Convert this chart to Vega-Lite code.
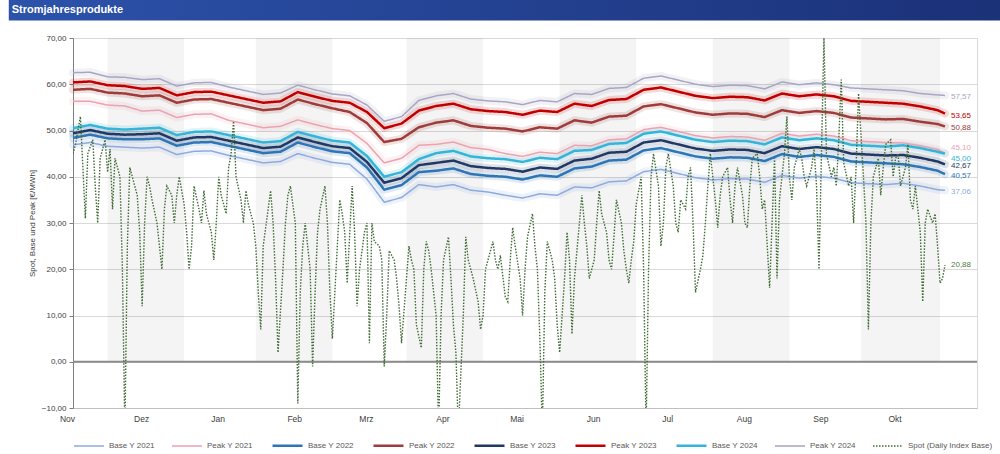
{
"$schema": "https://vega.github.io/schema/vega-lite/v6.json",
"autosize": {"type": "none"},
"padding": {"left": 73, "top": 38, "right": 23, "bottom": 46},
"width": 904,
"height": 370,
"config": {
 "font": "Liberation Sans",
 "view": {"stroke": "#d9d9d9"},
 "locale": {
  "number": {"decimal": ",", "thousands": ".", "grouping": [3], "currency": ["", " €"]},
  "time": {"dateTime": "%A, %e. %B %Y, %X", "date": "%d.%m.%Y", "time": "%H:%M:%S", "periods": ["AM", "PM"],
   "days": ["Sonntag", "Montag", "Dienstag", "Mittwoch", "Donnerstag", "Freitag", "Samstag"],
   "shortDays": ["So", "Mo", "Di", "Mi", "Do", "Fr", "Sa"],
   "months": ["Januar", "Februar", "März", "April", "Mai", "Juni", "Juli", "August", "September", "Oktober", "November", "Dezember"],
   "shortMonths": ["Jan", "Feb", "Mrz", "Apr", "Mai", "Jun", "Jul", "Aug", "Sep", "Okt", "Nov", "Dez"]}
 }
},
"datasets": {
 "shade": [
  {"start": "2019-11-15", "end": "2019-12-16"},
  {"start": "2020-01-14", "end": "2020-02-14"},
  {"start": "2020-03-15", "end": "2020-04-15"},
  {"start": "2020-05-16", "end": "2020-06-16"},
  {"start": "2020-07-17", "end": "2020-08-17"},
  {"start": "2020-09-15", "end": "2020-10-17"}
 ],
 "header": [{"title": "Stromjahresprodukte"}],
 "fwd": [
  {"date": "2019-11-01", "B21": 46.9, "P21": 56.3, "B22": 48.4, "P22": 58.8, "B23": 49.4, "P23": 60.4, "B24": 50.5, "P24": 62.5},
  {"date": "2019-11-08", "B21": 47.4, "P21": 56.3, "B22": 49.1, "P22": 59.0, "B23": 50.1, "P23": 60.6, "B24": 51.2, "P24": 62.6},
  {"date": "2019-11-15", "B21": 46.6, "P21": 55.5, "B22": 48.3, "P22": 58.2, "B23": 49.3, "P23": 59.8, "B24": 50.4, "P24": 61.6},
  {"date": "2019-11-22", "B21": 46.4, "P21": 55.3, "B22": 48.1, "P22": 58.0, "B23": 49.1, "P23": 59.6, "B24": 50.2, "P24": 61.5},
  {"date": "2019-11-29", "B21": 46.2, "P21": 54.2, "B22": 48.1, "P22": 57.4, "B23": 49.2, "P23": 59.0, "B24": 50.4, "P24": 61.0},
  {"date": "2019-12-06", "B21": 46.4, "P21": 54.4, "B22": 48.3, "P22": 57.6, "B23": 49.4, "P23": 59.2, "B24": 50.6, "P24": 61.2},
  {"date": "2019-12-13", "B21": 44.8, "P21": 52.8, "B22": 46.7, "P22": 56.0, "B23": 47.8, "P23": 57.6, "B24": 49.0, "P24": 59.6},
  {"date": "2019-12-20", "B21": 45.5, "P21": 53.5, "B22": 47.4, "P22": 56.7, "B23": 48.5, "P23": 58.3, "B24": 49.7, "P24": 60.3},
  {"date": "2019-12-27", "B21": 45.6, "P21": 53.6, "B22": 47.5, "P22": 56.8, "B23": 48.6, "P23": 58.4, "B24": 49.8, "P24": 60.4},
  {"date": "2020-01-03", "B21": 44.6, "P21": 52.2, "B22": 46.7, "P22": 56.0, "B23": 47.8, "P23": 57.6, "B24": 49.0, "P24": 59.4},
  {"date": "2020-01-10", "B21": 43.8, "P21": 51.4, "B22": 45.9, "P22": 55.2, "B23": 47.0, "P23": 56.8, "B24": 48.2, "P24": 58.6},
  {"date": "2020-01-17", "B21": 43.0, "P21": 50.6, "B22": 45.1, "P22": 54.4, "B23": 46.2, "P23": 56.0, "B24": 47.4, "P24": 57.8},
  {"date": "2020-01-24", "B21": 43.3, "P21": 50.9, "B22": 45.4, "P22": 54.7, "B23": 46.5, "P23": 56.3, "B24": 47.7, "P24": 58.1},
  {"date": "2020-01-31", "B21": 45.0, "P21": 52.3, "B22": 47.4, "P22": 56.7, "B23": 48.5, "P23": 58.3, "B24": 49.7, "P24": 59.8},
  {"date": "2020-02-07", "B21": 44.0, "P21": 51.3, "B22": 46.4, "P22": 55.7, "B23": 47.5, "P23": 57.3, "B24": 48.7, "P24": 58.8},
  {"date": "2020-02-14", "B21": 43.1, "P21": 50.4, "B22": 45.5, "P22": 54.8, "B23": 46.6, "P23": 56.4, "B24": 47.8, "P24": 57.9},
  {"date": "2020-02-21", "B21": 42.7, "P21": 50.0, "B22": 45.1, "P22": 54.0, "B23": 46.2, "P23": 56.0, "B24": 47.4, "P24": 57.5},
  {"date": "2020-02-28", "B21": 39.5, "P21": 47.2, "B22": 42.0, "P22": 51.6, "B23": 43.2, "P23": 54.0, "B24": 44.5, "P24": 55.5},
  {"date": "2020-03-06", "B21": 34.5, "P21": 43.0, "B22": 37.2, "P22": 47.5, "B23": 38.7, "P23": 50.5, "B24": 40.0, "P24": 52.0},
  {"date": "2020-03-13", "B21": 35.5, "P21": 44.0, "B22": 38.2, "P22": 48.2, "B23": 39.7, "P23": 51.5, "B24": 41.0, "P24": 53.0},
  {"date": "2020-03-20", "B21": 38.3, "P21": 46.8, "B22": 41.0, "P22": 50.7, "B23": 42.5, "P23": 54.3, "B24": 43.8, "P24": 56.5},
  {"date": "2020-03-27", "B21": 37.8, "P21": 47.0, "B22": 41.3, "P22": 51.7, "B23": 43.0, "P23": 55.3, "B24": 45.1, "P24": 57.5},
  {"date": "2020-04-03", "B21": 38.3, "P21": 47.5, "B22": 41.8, "P22": 52.2, "B23": 43.5, "P23": 55.8, "B24": 45.6, "P24": 58.0},
  {"date": "2020-04-10", "B21": 37.1, "P21": 46.3, "B22": 40.6, "P22": 51.0, "B23": 42.3, "P23": 54.6, "B24": 44.4, "P24": 56.8},
  {"date": "2020-04-17", "B21": 36.7, "P21": 45.9, "B22": 40.2, "P22": 50.6, "B23": 41.9, "P23": 54.2, "B24": 44.0, "P24": 56.4},
  {"date": "2020-04-24", "B21": 36.0, "P21": 45.0, "B22": 40.0, "P22": 50.4, "B23": 41.7, "P23": 54.0, "B24": 43.8, "P24": 56.2},
  {"date": "2020-05-01", "B21": 35.4, "P21": 44.4, "B22": 39.4, "P22": 49.8, "B23": 41.1, "P23": 53.4, "B24": 43.2, "P24": 55.6},
  {"date": "2020-05-08", "B21": 36.3, "P21": 45.3, "B22": 40.3, "P22": 50.7, "B23": 42.0, "P23": 54.3, "B24": 44.1, "P24": 56.5},
  {"date": "2020-05-15", "B21": 36.0, "P21": 45.0, "B22": 40.0, "P22": 50.4, "B23": 41.7, "P23": 54.0, "B24": 43.8, "P24": 56.2},
  {"date": "2020-05-22", "B21": 37.8, "P21": 46.8, "B22": 41.8, "P22": 52.2, "B23": 43.5, "P23": 55.8, "B24": 45.6, "P24": 58.0},
  {"date": "2020-05-29", "B21": 37.6, "P21": 46.7, "B22": 42.2, "P22": 51.7, "B23": 43.9, "P23": 55.3, "B24": 45.8, "P24": 57.8},
  {"date": "2020-06-05", "B21": 38.9, "P21": 48.0, "B22": 43.5, "P22": 53.0, "B23": 45.2, "P23": 56.6, "B24": 47.1, "P24": 59.1},
  {"date": "2020-06-12", "B21": 39.1, "P21": 48.2, "B22": 43.7, "P22": 53.2, "B23": 45.4, "P23": 56.8, "B24": 47.3, "P24": 59.3},
  {"date": "2020-06-19", "B21": 41.1, "P21": 50.2, "B22": 45.7, "P22": 55.2, "B23": 47.4, "P23": 58.8, "B24": 49.3, "P24": 61.3},
  {"date": "2020-06-26", "B21": 41.6, "P21": 50.7, "B22": 46.2, "P22": 55.7, "B23": 47.9, "P23": 59.3, "B24": 49.8, "P24": 61.8},
  {"date": "2020-07-03", "B21": 40.7, "P21": 49.8, "B22": 45.3, "P22": 54.8, "B23": 47.0, "P23": 58.4, "B24": 48.9, "P24": 60.9},
  {"date": "2020-07-10", "B21": 39.8, "P21": 48.9, "B22": 44.4, "P22": 53.9, "B23": 46.1, "P23": 57.5, "B24": 48.0, "P24": 60.0},
  {"date": "2020-07-17", "B21": 39.3, "P21": 48.4, "B22": 43.9, "P22": 53.4, "B23": 45.6, "P23": 57.0, "B24": 47.5, "P24": 59.5},
  {"date": "2020-07-24", "B21": 39.6, "P21": 48.7, "B22": 44.2, "P22": 53.7, "B23": 45.9, "P23": 57.3, "B24": 47.8, "P24": 59.8},
  {"date": "2020-07-31", "B21": 39.5, "P21": 48.6, "B22": 44.1, "P22": 53.6, "B23": 45.8, "P23": 57.2, "B24": 47.7, "P24": 59.7},
  {"date": "2020-08-07", "B21": 38.8, "P21": 47.9, "B22": 43.4, "P22": 52.9, "B23": 45.1, "P23": 56.5, "B24": 47.0, "P24": 59.0},
  {"date": "2020-08-14", "B21": 40.3, "P21": 49.4, "B22": 44.9, "P22": 54.4, "B23": 46.6, "P23": 58.0, "B24": 48.5, "P24": 60.5},
  {"date": "2020-08-21", "B21": 39.7, "P21": 48.8, "B22": 44.3, "P22": 53.8, "B23": 46.0, "P23": 57.4, "B24": 47.9, "P24": 59.9},
  {"date": "2020-08-28", "B21": 40.1, "P21": 49.2, "B22": 44.7, "P22": 54.2, "B23": 46.4, "P23": 57.8, "B24": 48.3, "P24": 60.3},
  {"date": "2020-09-04", "B21": 39.7, "P21": 48.8, "B22": 44.3, "P22": 53.8, "B23": 46.0, "P23": 57.4, "B24": 47.9, "P24": 59.9},
  {"date": "2020-09-11", "B21": 38.7, "P21": 47.8, "B22": 43.3, "P22": 52.8, "B23": 45.0, "P23": 56.4, "B24": 46.9, "P24": 59.2},
  {"date": "2020-09-18", "B21": 38.5, "P21": 47.6, "B22": 43.1, "P22": 52.6, "B23": 44.8, "P23": 56.2, "B24": 46.7, "P24": 59.0},
  {"date": "2020-09-25", "B21": 38.3, "P21": 47.4, "B22": 42.9, "P22": 52.4, "B23": 44.6, "P23": 56.0, "B24": 46.5, "P24": 58.8},
  {"date": "2020-10-02", "B21": 38.6, "P21": 47.3, "B22": 42.7, "P22": 52.5, "B23": 44.7, "P23": 55.8, "B24": 46.8, "P24": 58.6},
  {"date": "2020-10-09", "B21": 38.0, "P21": 46.7, "B22": 42.1, "P22": 51.9, "B23": 44.1, "P23": 55.2, "B24": 46.2, "P24": 58.0},
  {"date": "2020-10-16", "B21": 37.2, "P21": 45.9, "B22": 41.3, "P22": 51.4, "B23": 43.3, "P23": 54.4, "B24": 45.4, "P24": 57.7},
  {"date": "2020-10-19", "B21": 37.06, "P21": 45.1, "B22": 40.57, "P22": 50.88, "B23": 42.67, "P23": 53.65, "B24": 45.0, "P24": 57.57}
 ],
 "spot": [
  {"date": "2019-11-01", "Spot": 45}, {"date": "2019-11-02", "Spot": 47}, {"date": "2019-11-03", "Spot": 50}, {"date": "2019-11-04", "Spot": 53},
  {"date": "2019-11-05", "Spot": 42}, {"date": "2019-11-06", "Spot": 31}, {"date": "2019-11-07", "Spot": 45}, {"date": "2019-11-09", "Spot": 48},
  {"date": "2019-11-10", "Spot": 38}, {"date": "2019-11-11", "Spot": 30}, {"date": "2019-11-12", "Spot": 44}, {"date": "2019-11-14", "Spot": 48},
  {"date": "2019-11-15", "Spot": 41}, {"date": "2019-11-16", "Spot": 46}, {"date": "2019-11-17", "Spot": 33}, {"date": "2019-11-18", "Spot": 44},
  {"date": "2019-11-20", "Spot": 40}, {"date": "2019-11-21", "Spot": 20}, {"date": "2019-11-22", "Spot": -15}, {"date": "2019-11-23", "Spot": 25},
  {"date": "2019-11-24", "Spot": 42}, {"date": "2019-11-25", "Spot": 40}, {"date": "2019-11-27", "Spot": 36}, {"date": "2019-11-28", "Spot": 28},
  {"date": "2019-11-29", "Spot": 12}, {"date": "2019-11-30", "Spot": 30}, {"date": "2019-12-01", "Spot": 40}, {"date": "2019-12-02", "Spot": 38},
  {"date": "2019-12-03", "Spot": 35}, {"date": "2019-12-05", "Spot": 30}, {"date": "2019-12-06", "Spot": 25}, {"date": "2019-12-07", "Spot": 20},
  {"date": "2019-12-08", "Spot": 33}, {"date": "2019-12-09", "Spot": 38}, {"date": "2019-12-11", "Spot": 36}, {"date": "2019-12-12", "Spot": 30},
  {"date": "2019-12-13", "Spot": 36}, {"date": "2019-12-14", "Spot": 40}, {"date": "2019-12-16", "Spot": 34}, {"date": "2019-12-17", "Spot": 28},
  {"date": "2019-12-18", "Spot": 20}, {"date": "2019-12-19", "Spot": 25}, {"date": "2019-12-20", "Spot": 38}, {"date": "2019-12-22", "Spot": 33},
  {"date": "2019-12-23", "Spot": 30}, {"date": "2019-12-24", "Spot": 37}, {"date": "2019-12-25", "Spot": 32}, {"date": "2019-12-27", "Spot": 28},
  {"date": "2019-12-28", "Spot": 22}, {"date": "2019-12-29", "Spot": 30}, {"date": "2019-12-30", "Spot": 40}, {"date": "2019-12-31", "Spot": 36},
  {"date": "2020-01-02", "Spot": 32}, {"date": "2020-01-03", "Spot": 42}, {"date": "2020-01-04", "Spot": 45}, {"date": "2020-01-05", "Spot": 52},
  {"date": "2020-01-06", "Spot": 40}, {"date": "2020-01-08", "Spot": 35}, {"date": "2020-01-09", "Spot": 30}, {"date": "2020-01-10", "Spot": 37},
  {"date": "2020-01-11", "Spot": 34}, {"date": "2020-01-13", "Spot": 30}, {"date": "2020-01-14", "Spot": 25}, {"date": "2020-01-15", "Spot": 15},
  {"date": "2020-01-16", "Spot": 7}, {"date": "2020-01-17", "Spot": 25}, {"date": "2020-01-19", "Spot": 33}, {"date": "2020-01-20", "Spot": 37},
  {"date": "2020-01-21", "Spot": 30}, {"date": "2020-01-22", "Spot": 18}, {"date": "2020-01-23", "Spot": 2}, {"date": "2020-01-25", "Spot": 20},
  {"date": "2020-01-26", "Spot": 30}, {"date": "2020-01-27", "Spot": 36}, {"date": "2020-01-28", "Spot": 38}, {"date": "2020-01-30", "Spot": 30},
  {"date": "2020-01-31", "Spot": -9}, {"date": "2020-02-01", "Spot": 15}, {"date": "2020-02-02", "Spot": 25}, {"date": "2020-02-03", "Spot": 30},
  {"date": "2020-02-05", "Spot": 20}, {"date": "2020-02-06", "Spot": -1}, {"date": "2020-02-07", "Spot": 15}, {"date": "2020-02-08", "Spot": 28},
  {"date": "2020-02-09", "Spot": 33}, {"date": "2020-02-11", "Spot": 38}, {"date": "2020-02-12", "Spot": 30}, {"date": "2020-02-13", "Spot": 15},
  {"date": "2020-02-14", "Spot": 5}, {"date": "2020-02-16", "Spot": 25}, {"date": "2020-02-17", "Spot": 35}, {"date": "2020-02-18", "Spot": 32},
  {"date": "2020-02-19", "Spot": 28}, {"date": "2020-02-20", "Spot": 17}, {"date": "2020-02-22", "Spot": 38}, {"date": "2020-02-23", "Spot": 28},
  {"date": "2020-02-24", "Spot": 12}, {"date": "2020-02-25", "Spot": 20}, {"date": "2020-02-27", "Spot": 28}, {"date": "2020-02-28", "Spot": 30},
  {"date": "2020-02-29", "Spot": 4}, {"date": "2020-03-01", "Spot": 30}, {"date": "2020-03-02", "Spot": 26}, {"date": "2020-03-04", "Spot": 25},
  {"date": "2020-03-05", "Spot": 22}, {"date": "2020-03-06", "Spot": -1}, {"date": "2020-03-07", "Spot": 10}, {"date": "2020-03-08", "Spot": 24},
  {"date": "2020-03-10", "Spot": 22}, {"date": "2020-03-11", "Spot": 18}, {"date": "2020-03-12", "Spot": 12}, {"date": "2020-03-13", "Spot": 4},
  {"date": "2020-03-15", "Spot": 18}, {"date": "2020-03-16", "Spot": 25}, {"date": "2020-03-17", "Spot": 22}, {"date": "2020-03-18", "Spot": 20},
  {"date": "2020-03-19", "Spot": 8}, {"date": "2020-03-21", "Spot": 3}, {"date": "2020-03-22", "Spot": 20}, {"date": "2020-03-23", "Spot": 26},
  {"date": "2020-03-24", "Spot": 24}, {"date": "2020-03-25", "Spot": 20}, {"date": "2020-03-27", "Spot": 10}, {"date": "2020-03-28", "Spot": -15},
  {"date": "2020-03-29", "Spot": 10}, {"date": "2020-03-30", "Spot": 22}, {"date": "2020-04-01", "Spot": 27}, {"date": "2020-04-02", "Spot": 18},
  {"date": "2020-04-03", "Spot": 8}, {"date": "2020-04-04", "Spot": 2}, {"date": "2020-04-05", "Spot": -15}, {"date": "2020-04-07", "Spot": 10},
  {"date": "2020-04-08", "Spot": 27}, {"date": "2020-04-09", "Spot": 22}, {"date": "2020-04-10", "Spot": 20}, {"date": "2020-04-11", "Spot": 18},
  {"date": "2020-04-13", "Spot": 13}, {"date": "2020-04-14", "Spot": 7}, {"date": "2020-04-15", "Spot": 10}, {"date": "2020-04-16", "Spot": 20},
  {"date": "2020-04-18", "Spot": 24}, {"date": "2020-04-19", "Spot": 26}, {"date": "2020-04-20", "Spot": 22}, {"date": "2020-04-21", "Spot": 20},
  {"date": "2020-04-22", "Spot": 23}, {"date": "2020-04-24", "Spot": 14}, {"date": "2020-04-25", "Spot": 13}, {"date": "2020-04-26", "Spot": 22},
  {"date": "2020-04-27", "Spot": 29}, {"date": "2020-04-28", "Spot": 25}, {"date": "2020-04-30", "Spot": 18}, {"date": "2020-05-01", "Spot": 10},
  {"date": "2020-05-02", "Spot": 20}, {"date": "2020-05-03", "Spot": 27}, {"date": "2020-05-05", "Spot": 32}, {"date": "2020-05-06", "Spot": 25},
  {"date": "2020-05-07", "Spot": 20}, {"date": "2020-05-08", "Spot": 5}, {"date": "2020-05-09", "Spot": -15}, {"date": "2020-05-10", "Spot": 15},
  {"date": "2020-05-11", "Spot": 26}, {"date": "2020-05-13", "Spot": 22}, {"date": "2020-05-14", "Spot": 18}, {"date": "2020-05-15", "Spot": 8},
  {"date": "2020-05-16", "Spot": 2}, {"date": "2020-05-18", "Spot": 18}, {"date": "2020-05-19", "Spot": 28}, {"date": "2020-05-20", "Spot": 22},
  {"date": "2020-05-21", "Spot": 6}, {"date": "2020-05-22", "Spot": 18}, {"date": "2020-05-24", "Spot": 30}, {"date": "2020-05-25", "Spot": 36},
  {"date": "2020-05-26", "Spot": 30}, {"date": "2020-05-27", "Spot": 25}, {"date": "2020-05-28", "Spot": 18}, {"date": "2020-05-30", "Spot": 22},
  {"date": "2020-05-31", "Spot": 30}, {"date": "2020-06-01", "Spot": 37}, {"date": "2020-06-02", "Spot": 32}, {"date": "2020-06-04", "Spot": 28},
  {"date": "2020-06-05", "Spot": 22}, {"date": "2020-06-06", "Spot": 20}, {"date": "2020-06-07", "Spot": 27}, {"date": "2020-06-08", "Spot": 35},
  {"date": "2020-06-10", "Spot": 30}, {"date": "2020-06-11", "Spot": 24}, {"date": "2020-06-12", "Spot": 20}, {"date": "2020-06-13", "Spot": 17},
  {"date": "2020-06-14", "Spot": 22}, {"date": "2020-06-15", "Spot": 26}, {"date": "2020-06-16", "Spot": 34}, {"date": "2020-06-18", "Spot": 40},
  {"date": "2020-06-19", "Spot": 20}, {"date": "2020-06-20", "Spot": -15}, {"date": "2020-06-21", "Spot": 20}, {"date": "2020-06-22", "Spot": 40},
  {"date": "2020-06-23", "Spot": 45}, {"date": "2020-06-25", "Spot": 38}, {"date": "2020-06-26", "Spot": 25}, {"date": "2020-06-27", "Spot": 30},
  {"date": "2020-06-28", "Spot": 42}, {"date": "2020-06-29", "Spot": 45}, {"date": "2020-07-01", "Spot": 38}, {"date": "2020-07-02", "Spot": 30},
  {"date": "2020-07-03", "Spot": 28}, {"date": "2020-07-04", "Spot": 35}, {"date": "2020-07-06", "Spot": 33}, {"date": "2020-07-07", "Spot": 40},
  {"date": "2020-07-08", "Spot": 42}, {"date": "2020-07-09", "Spot": 30}, {"date": "2020-07-10", "Spot": 15}, {"date": "2020-07-12", "Spot": 20},
  {"date": "2020-07-13", "Spot": 23}, {"date": "2020-07-14", "Spot": 30}, {"date": "2020-07-15", "Spot": 38}, {"date": "2020-07-16", "Spot": 45},
  {"date": "2020-07-18", "Spot": 35}, {"date": "2020-07-19", "Spot": 29}, {"date": "2020-07-20", "Spot": 36}, {"date": "2020-07-21", "Spot": 40},
  {"date": "2020-07-23", "Spot": 42}, {"date": "2020-07-24", "Spot": 35}, {"date": "2020-07-25", "Spot": 30}, {"date": "2020-07-26", "Spot": 38},
  {"date": "2020-07-27", "Spot": 42}, {"date": "2020-07-29", "Spot": 36}, {"date": "2020-07-30", "Spot": 30}, {"date": "2020-07-31", "Spot": 29},
  {"date": "2020-08-01", "Spot": 38}, {"date": "2020-08-02", "Spot": 44}, {"date": "2020-08-04", "Spot": 45}, {"date": "2020-08-05", "Spot": 40},
  {"date": "2020-08-06", "Spot": 33}, {"date": "2020-08-07", "Spot": 35}, {"date": "2020-08-09", "Spot": 16}, {"date": "2020-08-10", "Spot": 30},
  {"date": "2020-08-11", "Spot": 44}, {"date": "2020-08-12", "Spot": 18}, {"date": "2020-08-13", "Spot": 35}, {"date": "2020-08-15", "Spot": 45},
  {"date": "2020-08-16", "Spot": 53}, {"date": "2020-08-17", "Spot": 40}, {"date": "2020-08-18", "Spot": 35}, {"date": "2020-08-19", "Spot": 42},
  {"date": "2020-08-21", "Spot": 46}, {"date": "2020-08-22", "Spot": 44}, {"date": "2020-08-23", "Spot": 40}, {"date": "2020-08-24", "Spot": 38},
  {"date": "2020-08-26", "Spot": 42}, {"date": "2020-08-27", "Spot": 46}, {"date": "2020-08-28", "Spot": 38}, {"date": "2020-08-29", "Spot": 20},
  {"date": "2020-08-30", "Spot": 45}, {"date": "2020-08-31", "Spot": 70}, {"date": "2020-09-01", "Spot": 45}, {"date": "2020-09-03", "Spot": 40},
  {"date": "2020-09-04", "Spot": 42}, {"date": "2020-09-05", "Spot": 38}, {"date": "2020-09-06", "Spot": 48}, {"date": "2020-09-07", "Spot": 61},
  {"date": "2020-09-08", "Spot": 43}, {"date": "2020-09-10", "Spot": 38}, {"date": "2020-09-11", "Spot": 40}, {"date": "2020-09-12", "Spot": 30},
  {"date": "2020-09-13", "Spot": 42}, {"date": "2020-09-14", "Spot": 58}, {"date": "2020-09-16", "Spot": 40}, {"date": "2020-09-17", "Spot": 30},
  {"date": "2020-09-18", "Spot": 7}, {"date": "2020-09-19", "Spot": 30}, {"date": "2020-09-20", "Spot": 40}, {"date": "2020-09-22", "Spot": 44},
  {"date": "2020-09-23", "Spot": 36}, {"date": "2020-09-24", "Spot": 42}, {"date": "2020-09-25", "Spot": 47}, {"date": "2020-09-27", "Spot": 48},
  {"date": "2020-09-28", "Spot": 40}, {"date": "2020-09-29", "Spot": 44}, {"date": "2020-09-30", "Spot": 45}, {"date": "2020-10-01", "Spot": 38},
  {"date": "2020-10-03", "Spot": 42}, {"date": "2020-10-04", "Spot": 47}, {"date": "2020-10-05", "Spot": 35}, {"date": "2020-10-06", "Spot": 33},
  {"date": "2020-10-07", "Spot": 38}, {"date": "2020-10-09", "Spot": 28}, {"date": "2020-10-10", "Spot": 13}, {"date": "2020-10-11", "Spot": 30},
  {"date": "2020-10-12", "Spot": 33}, {"date": "2020-10-14", "Spot": 30}, {"date": "2020-10-15", "Spot": 32}, {"date": "2020-10-16", "Spot": 25},
  {"date": "2020-10-17", "Spot": 17}, {"date": "2020-10-18", "Spot": 18}, {"date": "2020-10-19", "Spot": 20.88}
 ]
},
"layer": [
 {
  "data": {"name": "shade"},
  "mark": {"type": "rect", "color": "#000000", "opacity": 0.045},
  "encoding": {
   "x": {"field": "start", "type": "temporal",
    "scale": {"domain": [{"year": 2019, "month": 11, "date": 1}, {"year": 2020, "month": 10, "date": 31, "hours": 23}]},
    "axis": {"format": "%b", "tickCount": {"interval": "month", "step": 1}, "labelOffset": -6, "labelFlush": false, "labelOverlap": false, "ticks": false, "grid": false, "domainColor": "#bfbfbf", "labelFontSize": 8.5, "labelColor": "#404040", "labelPadding": 6, "title": null}},
   "x2": {"field": "end"},
   "y": {"datum": 0, "type": "quantitative",
    "scale": {"domain": [-10, 70], "nice": false, "zero": false},
    "axis": {"values": [-10, -5, 0, 5, 10, 15, 20, 25, 30, 35, 40, 45, 50, 55, 60, 65, 70], "format": ".2f", "grid": true, "gridColor": "#d9d9d9", "domainColor": "#7f7f7f", "tickColor": "#7f7f7f", "tickSize": 4, "labelFontSize": 8, "labelColor": "#404040", "labelPadding": 3, "title": "Spot, Base und Peak [€/MWh]", "titleFontSize": 8, "titleFontWeight": "normal", "titleColor": "#404040", "titlePadding": 5}},
   "y2": {"datum": 70}
  }
 },
 {
  "data": {"name": "header"},
  "mark": {"type": "rect", "clip": false, "color": {"gradient": "linear", "x1": 0, "y1": 0, "x2": 1, "y2": 0, "stops": [{"offset": 0, "color": "#2c52aa"}, {"offset": 1, "color": "#1b3178"}]}},
  "encoding": {
   "x": {"datum": {"year": 2019, "month": 10, "date": 6}, "type": "temporal"},
   "x2": {"datum": {"year": 2020, "month": 11, "date": 12}},
   "y": {"datum": 78.3, "type": "quantitative"},
   "y2": {"datum": 73.8}
  }
 },
 {
  "data": {"name": "header"},
  "mark": {"type": "text", "clip": false, "align": "left", "baseline": "middle", "dx": 3, "color": "#ffffff", "fontSize": 11, "fontWeight": "bold"},
  "encoding": {
   "x": {"datum": {"year": 2019, "month": 10, "date": 6}, "type": "temporal"},
   "y": {"datum": 76.0, "type": "quantitative"},
   "text": {"field": "title", "type": "nominal"}
  }
 },
 {
  "data": {"values": [{}]},
  "mark": {"type": "rule", "color": "#8c8c8c", "strokeWidth": 2},
  "encoding": {"y": {"datum": 0, "type": "quantitative"}}
 },
 {
  "data": {"name": "fwd"},
  "transform": [{"fold": ["B21", "P21", "B22", "P22", "B23", "P23", "B24", "P24"], "as": ["series", "value"]}],
  "mark": {"type": "line", "strokeWidth": 8, "opacity": 0.15, "strokeJoin": "round", "strokeCap": "round"},
  "encoding": {
   "x": {"field": "date", "type": "temporal"},
   "y": {"field": "value", "type": "quantitative"},
   "stroke": {"field": "series", "type": "nominal", "legend": null,
    "scale": {"domain": ["B21", "P21", "B22", "P22", "B23", "P23", "B24", "P24"], "range": ["#8faadc", "#eaa3b0", "#2e75b6", "#9e3b3b", "#1f3864", "#c00000", "#35b4d8", "#a7a7c2"]}}
  }
 },
 {
  "data": {"name": "fwd"},
  "transform": [{"fold": ["B21", "P21", "B22", "P22", "B23", "P23", "B24", "P24"], "as": ["series", "value"]}],
  "mark": {"type": "line", "strokeJoin": "round"},
  "encoding": {
   "x": {"field": "date", "type": "temporal"},
   "y": {"field": "value", "type": "quantitative"},
   "color": {"field": "series", "type": "nominal",
    "scale": {"domain": ["B21", "P21", "B22", "P22", "B23", "P23", "B24", "P24", "Spot"], "range": ["#8faadc", "#eaa3b0", "#2e75b6", "#9e3b3b", "#1f3864", "#c00000", "#35b4d8", "#a7a7c2", "#3f6b35"]},
    "legend": {"title": null, "orient": "bottom", "direction": "horizontal", "symbolType": "stroke", "symbolSize": 900, "symbolOpacity": 1, "labelFontSize": 8, "labelColor": "#595959", "columnPadding": 14, "symbolLimit": 0, "offset": 6,
     "labelExpr": "{'B21': 'Base Y 2021', 'P21': 'Peak Y 2021', 'B22': 'Base Y 2022', 'P22': 'Peak Y 2022', 'B23': 'Base Y 2023', 'P23': 'Peak Y 2023', 'B24': 'Base Y 2024', 'P24': 'Peak Y 2024', 'Spot': 'Spot (Daily Index Base)'}[datum.label]"}},
   "strokeWidth": {"field": "series", "type": "nominal", "sort": ["B21", "P21", "B22", "P22", "B23", "P23", "B24", "P24", "Spot"],
    "scale": {"type": "ordinal", "domain": ["B21", "P21", "B22", "P22", "B23", "P23", "B24", "P24", "Spot"], "range": [1.5, 1.5, 2.5, 2.5, 2.5, 2.5, 2.5, 1.5, 1.4]},
    "legend": {"title": null, "orient": "bottom", "direction": "horizontal", "symbolType": "stroke", "symbolSize": 900, "symbolOpacity": 1, "labelFontSize": 8, "labelColor": "#595959", "columnPadding": 14, "symbolLimit": 0, "offset": 6,
     "labelExpr": "{'B21': 'Base Y 2021', 'P21': 'Peak Y 2021', 'B22': 'Base Y 2022', 'P22': 'Peak Y 2022', 'B23': 'Base Y 2023', 'P23': 'Peak Y 2023', 'B24': 'Base Y 2024', 'P24': 'Peak Y 2024', 'Spot': 'Spot (Daily Index Base)'}[datum.label]"}},
   "strokeDash": {"field": "series", "type": "nominal",
    "scale": {"domain": ["B21", "P21", "B22", "P22", "B23", "P23", "B24", "P24", "Spot"], "range": [[1, 0], [1, 0], [1, 0], [1, 0], [1, 0], [1, 0], [1, 0], [1, 0], [1.5, 1.5]]},
    "legend": {"title": null, "orient": "bottom", "direction": "horizontal", "symbolType": "stroke", "symbolSize": 900, "symbolOpacity": 1, "labelFontSize": 8, "labelColor": "#595959", "columnPadding": 14, "symbolLimit": 0, "offset": 6,
     "labelExpr": "{'B21': 'Base Y 2021', 'P21': 'Peak Y 2021', 'B22': 'Base Y 2022', 'P22': 'Peak Y 2022', 'B23': 'Base Y 2023', 'P23': 'Peak Y 2023', 'B24': 'Base Y 2024', 'P24': 'Peak Y 2024', 'Spot': 'Spot (Daily Index Base)'}[datum.label]"}}
  }
 },
 {
  "data": {"name": "spot"},
  "transform": [{"fold": ["Spot"], "as": ["series", "value"]}],
  "mark": {"type": "line", "clip": true, "strokeWidth": 1.4, "strokeDash": [1.5, 1.5]},
  "encoding": {
   "x": {"field": "date", "type": "temporal"},
   "y": {"field": "value", "type": "quantitative"},
   "color": {"field": "series", "type": "nominal"}
  }
 },
 {
  "data": {"name": "fwd"},
  "transform": [{"filter": "time(datum.date) >= time('2020-10-19')"}, {"fold": ["B21", "B22", "P22", "B23", "P23", "P24"], "as": ["series", "value"]}],
  "mark": {"type": "text", "align": "left", "baseline": "middle", "dx": 6, "dy": 2, "fontSize": 8},
  "encoding": {
   "x": {"field": "date", "type": "temporal"},
   "y": {"field": "value", "type": "quantitative"},
   "text": {"field": "value", "type": "quantitative", "format": ".2f"},
   "fill": {"field": "series", "type": "nominal", "legend": null,
    "scale": {"domain": ["B21", "P21", "B22", "P22", "B23", "P23", "B24", "P24", "Spot"], "range": ["#8faadc", "#eaa3b0", "#2e75b6", "#9e3b3b", "#1f3864", "#c00000", "#35b4d8", "#a7a7c2", "#4e7d43"]}}
  }
 },
 {
  "data": {"name": "fwd"},
  "transform": [{"filter": "time(datum.date) >= time('2020-10-19')"}, {"fold": ["P21"], "as": ["series", "value"]}],
  "mark": {"type": "text", "align": "left", "baseline": "middle", "dx": 6, "dy": -5, "fontSize": 8},
  "encoding": {
   "x": {"field": "date", "type": "temporal"},
   "y": {"field": "value", "type": "quantitative"},
   "text": {"field": "value", "type": "quantitative", "format": ".2f"},
   "fill": {"field": "series", "type": "nominal", "legend": null}
  }
 },
 {
  "data": {"name": "fwd"},
  "transform": [{"filter": "time(datum.date) >= time('2020-10-19')"}, {"fold": ["B24"], "as": ["series", "value"]}],
  "mark": {"type": "text", "align": "left", "baseline": "middle", "dx": 6, "dy": 5, "fontSize": 8},
  "encoding": {
   "x": {"field": "date", "type": "temporal"},
   "y": {"field": "value", "type": "quantitative"},
   "text": {"field": "value", "type": "quantitative", "format": ".2f"},
   "fill": {"field": "series", "type": "nominal", "legend": null}
  }
 },
 {
  "data": {"name": "spot"},
  "transform": [{"filter": "time(datum.date) >= time('2020-10-19')"}, {"fold": ["Spot"], "as": ["series", "value"]}],
  "mark": {"type": "text", "align": "left", "baseline": "middle", "dx": 6, "fontSize": 8},
  "encoding": {
   "x": {"field": "date", "type": "temporal"},
   "y": {"field": "value", "type": "quantitative"},
   "text": {"field": "value", "type": "quantitative", "format": ".2f"},
   "fill": {"field": "series", "type": "nominal", "legend": null}
  }
 }
]
}
